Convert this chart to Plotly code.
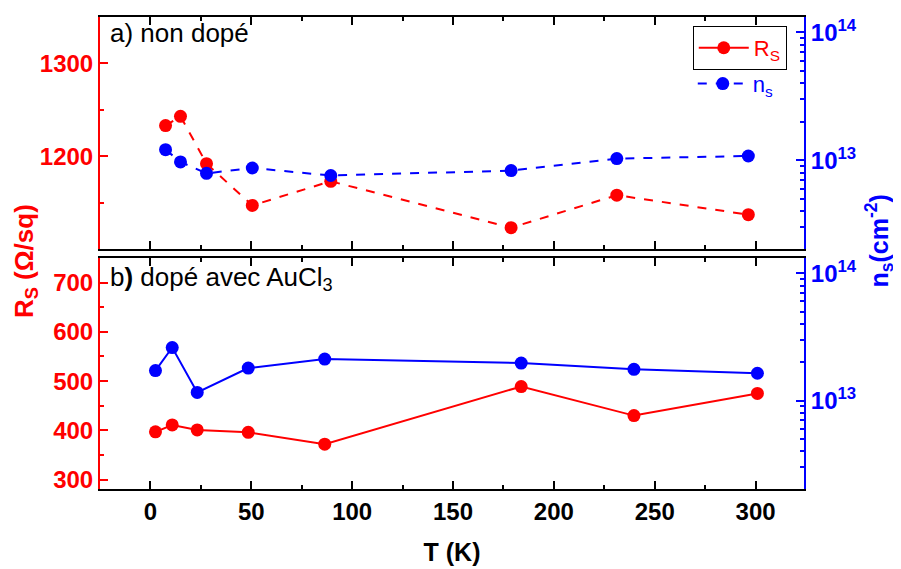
import plotly.graph_objects as go

# ---- data ----
T_a = [7.5, 14.9, 27.8, 50.5, 89.4, 178.8, 231.2, 296.4]
Rs_a = [1233, 1243, 1192, 1147, 1173, 1123, 1158, 1137]
ns_a = [1.21e13, 9.7e12, 7.9e12, 8.7e12, 7.6e12, 8.3e12, 1.03e13, 1.08e13]

T_b = [2.5, 10.8, 23.2, 48.5, 86.4, 183.8, 239.7, 300.9]
Rs_b = [397, 411, 401, 396, 372, 489, 430, 475]
ns_b = [1.72e13, 2.61e13, 1.16e13, 1.80e13, 2.12e13, 1.97e13, 1.76e13, 1.64e13]

x_ticks = [0, 50, 100, 150, 200, 250, 300]
rs_ticks_a = [1200, 1300]
rs_ticks_b = [300, 400, 500, 600, 700]
ns_ticks = [1e13, 1e14]
ns_ticktext = ["10<sup>13</sup>", "10<sup>14</sup>"]

RED = "#ff0000"
BLUE = "#0000ff"
FONT = "Liberation Sans, Arial, sans-serif"

fig = go.Figure()

mk = dict(size=13)
fig.add_trace(go.Scatter(x=T_a, y=Rs_a, mode="lines+markers", name="R<sub>S</sub>",
                         line=dict(color=RED, width=2, dash="dash"), marker=dict(color=RED, **mk),
                         xaxis="x", yaxis="y", showlegend=False))
fig.add_trace(go.Scatter(x=T_a, y=ns_a, mode="lines+markers", name="n<sub>s</sub>",
                         line=dict(color=BLUE, width=2, dash="dash"), marker=dict(color=BLUE, **mk),
                         xaxis="x", yaxis="y2", legend="legend2"))
fig.add_trace(go.Scatter(x=T_b, y=Rs_b, mode="lines+markers", name="R<sub>S</sub>",
                         line=dict(color=RED, width=2), marker=dict(color=RED, **mk),
                         xaxis="x2", yaxis="y3", legend="legend"))
fig.add_trace(go.Scatter(x=T_b, y=ns_b, mode="lines+markers", name="n<sub>s</sub>",
                         line=dict(color=BLUE, width=2), marker=dict(color=BLUE, **mk),
                         xaxis="x2", yaxis="y4", showlegend=False))

tf = dict(family=FONT, size=24, weight="bold")
xcommon = dict(range=[-25, 324], tickvals=x_ticks, ticks="inside", ticklen=8, tickwidth=2,
               tickcolor="black", showline=True, linecolor="black", linewidth=2, mirror="ticks",
               showgrid=False, zeroline=False,
               minor=dict(ticks="inside", ticklen=4, tickwidth=2, dtick=25, tick0=0, tickcolor="black"))
ylc = dict(ticks="inside", ticklen=8, tickwidth=2, tickcolor=RED, showline=True, linecolor=RED,
           linewidth=2, showgrid=False, zeroline=False, tickfont=dict(color=RED, **tf),
           minor=dict(ticks="inside", ticklen=4, tickwidth=2, dtick=50, tickcolor=RED))
yrc = dict(type="log", range=[12.306, 14.12], tickvals=ns_ticks, ticktext=ns_ticktext,
           ticks="inside", ticklen=8, tickwidth=2, tickcolor=BLUE, showline=True, linecolor=BLUE,
           linewidth=2, showgrid=False, zeroline=False, side="right",
           tickfont=dict(color=BLUE, **tf),
           minor=dict(ticks="inside", ticklen=4, tickwidth=2, dtick="D1", tickcolor=BLUE))

top_dom = [0.5084, 1.0]
bot_dom = [0.0, 0.4895]

# page body adds an 8px offset; figure sized so plot area lands at page x 100-804, y 15-489
fig.update_layout(
    width=893, height=561,
    margin=dict(l=92, r=97, t=7, b=80),
    plot_bgcolor="white", paper_bgcolor="white",
    font=dict(family=FONT, size=20, color="black"),
    xaxis=dict(domain=[0, 1], anchor="y", showticklabels=False, **xcommon),
    xaxis2=dict(domain=[0, 1], anchor="y3", tickfont=tf, **xcommon,
                title=dict(text="T (K)", font=dict(family=FONT, size=25, weight="bold"), standoff=20)),
    yaxis=dict(domain=top_dom, anchor="x", range=[1100, 1350], tickvals=rs_ticks_a, **ylc),
    yaxis2=dict(domain=top_dom, anchor="x", overlaying="y", **yrc),
    yaxis3=dict(domain=bot_dom, anchor="x2", range=[281, 750], tickvals=rs_ticks_b, **ylc),
    yaxis4=dict(domain=bot_dom, anchor="x2", overlaying="y3", **yrc),
    legend=dict(x=0.842, y=0.981, xanchor="left", yanchor="top", bordercolor="black", borderwidth=1,
                bgcolor="white", font=dict(family=FONT, size=22, color=RED), itemwidth=50,
                tracegroupgap=0),
    legend2=dict(x=0.842, y=0.903, xanchor="left", yanchor="top", borderwidth=0,
                 bgcolor="rgba(0,0,0,0)", font=dict(family=FONT, size=22, color=BLUE), itemwidth=50),
    annotations=[
        dict(text="a) non dopé", xref="paper", yref="paper", x=0.0114, y=0.966, xanchor="left",
             yanchor="middle", showarrow=False, font=dict(family=FONT, size=26, color="black")),
        dict(text="b<b>)</b> dopé avec AuCl<sub>3</sub>", xref="paper", yref="paper", x=0.0114, y=0.447,
             xanchor="left", yanchor="middle", showarrow=False, font=dict(family=FONT, size=26, color="black")),
        dict(text="R<sub>S</sub> (Ω/sq)", xref="paper", yref="paper", x=-0.1065, y=0.483, textangle=-90,
             xanchor="center", yanchor="middle", showarrow=False,
             font=dict(family=FONT, size=26, color=RED, weight="bold")),
        dict(text="n<sub>s</sub>(cm<sup>-2</sup>)", xref="paper", yref="paper", x=1.107, y=0.525,
             textangle=-90, xanchor="center", yanchor="middle", showarrow=False,
             font=dict(family=FONT, size=25, color=BLUE, weight="bold")),
    ],
)

fig.write_html("out.html")
